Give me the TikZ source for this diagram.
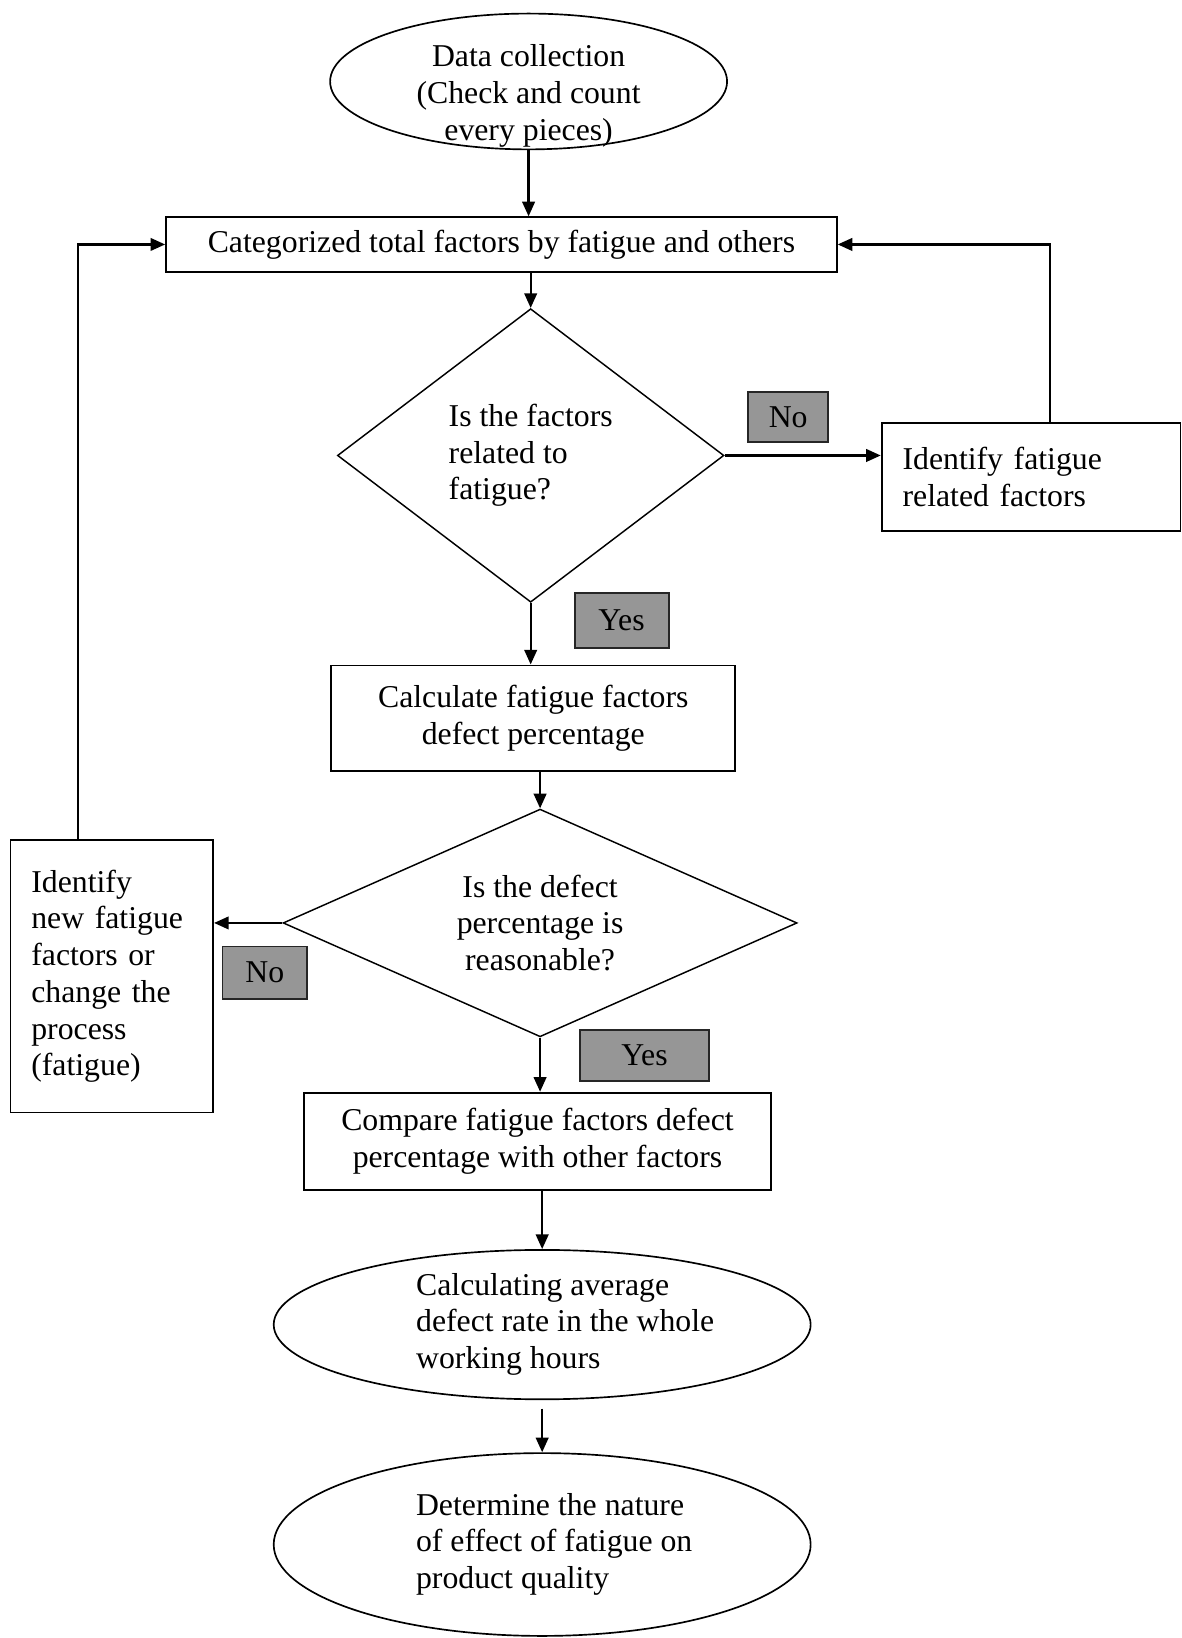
\documentclass[tikz,border=0pt]{standalone}
\usepackage{fontspec}
\setmainfont{Liberation Serif}
\usetikzlibrary{shapes.geometric, arrows.meta}
\definecolor{tagfill}{RGB}{150,150,150}

\begin{document}
\begin{tikzpicture}[
    x=0.5pt, y=-0.5pt,
    every node/.style={font=\fontsize{15.2}{17.6}\selectfont},
    box/.style={rectangle, draw, line width=0.9pt, inner sep=0pt, align=center},
    term/.style={ellipse, draw, line width=0.8pt, inner sep=0pt, align=center},
    oval/.style={term, inner ysep=-2pt},
    dec/.style={diamond, draw, line width=0.7pt, inner sep=0pt, align=center},
    tag/.style={rectangle, draw=black!85, line width=0.9pt, fill=tagfill, inner sep=0pt},
    arr/.style={-{Triangle[length=7pt, width=6pt]}, line width=1.1pt}
]
\useasboundingbox (0,0) rectangle (1131,1568);

\node[term, minimum width=190pt, minimum height=65pt]  (dc)   at (506,78)
    {\parbox[c][35pt][t]{120pt}{\centering Data collection\\(Check and count\\every pieces)}};
\node[box, minimum width=321pt, minimum height=26pt]   (cat)  at (480,234)     {Categorized total factors by fatigue and others};
\node[dec, shape aspect=1.32, minimum width=185pt, minimum height=140.5pt, align=left] (q1) at (508,436) {Is the factors\\related to\\fatigue?};
\node[box, minimum width=143pt, minimum height=51.5pt, text width=123pt, align=left] (fat) at (987,456.5) {Identify fatigue\\related factors};
\node[box, minimum width=193.5pt, minimum height=50.5pt] (calc) at (510.5,687.5) {Calculate fatigue factors\\defect percentage};
\node[dec, shape aspect=2.26, minimum width=246pt, minimum height=109pt] (q2) at (517,883.5) {Is the defect\\percentage is\\reasonable?};
\node[box, minimum width=97pt, minimum height=130.5pt, text width=77pt, align=left] (new) at (107,934.5) {Identify\\new fatigue\\factors or\\change the\\process\\(fatigue)};
\node[box, minimum width=223.5pt, minimum height=46.5pt] (cmp) at (514.5,1092.5) {Compare fatigue factors defect\\percentage with other factors};
\node[oval, minimum width=257pt, minimum height=71.5pt] (avg) at (519,1268)
    {\hspace*{22pt}\begin{tabular}{@{}l@{}}Calculating average\\defect rate in the whole\\working hours\end{tabular}};
\node[oval, minimum width=257pt, minimum height=87.5pt] (det) at (519,1478.5)
    {\hspace*{11.5pt}\begin{tabular}{@{}l@{}}Determine the nature\\of effect of fatigue on\\product quality\end{tabular}};

% yes / no tags
\node[tag, minimum width=38.5pt, minimum height=24pt]  (no1)  at (754.5,399)   {No};
\node[tag, minimum width=45pt, minimum height=26pt]    (yes1) at (595,594)     {Yes};
\node[tag, minimum width=40.5pt, minimum height=25pt]  (no2)  at (253.5,931)   {No};
\node[tag, minimum width=62pt, minimum height=24.5pt]  (yes2) at (617,1010.5)  {Yes};

\draw[arr] (dc.south) -- (dc.south |- cat.north);
\draw[arr] (q1.north |- cat.south) -- (q1.north);
\draw[arr] (q1.east) -- (q1.east -| fat.west);
\draw[arr] ([xshift=9pt]fat.north) |- (cat.east);
\draw[arr] (q1.south) -- (q1.south |- calc.north);
\draw[arr] (q2.north |- calc.south) -- (q2.north);
\draw[arr] (q2.west) -- (q2.west -| new.east);
\draw[arr] ([xshift=-16pt]new.north) |- (cat.west);
\draw[arr] (q2.south) -- (q2.south |- cmp.north);
\draw[arr] (avg.north |- cmp.south) -- (avg.north);
\draw[arr, shorten <=4pt] (avg.south) -- (det.north);
\end{tikzpicture}
\end{document}
